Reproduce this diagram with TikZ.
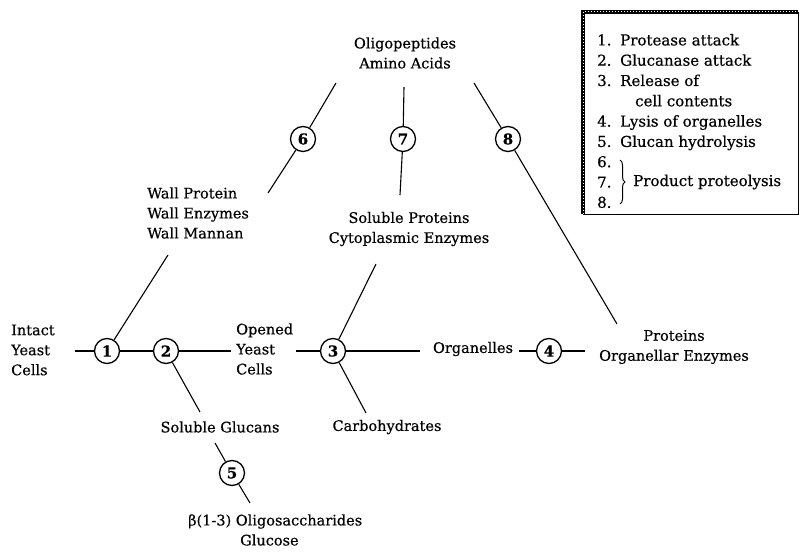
\documentclass[tikz,border=0pt]{standalone}
\usepackage{fontspec}
\setmainfont{DejaVu Serif}[FakeBold=0.5]
\usetikzlibrary{decorations.pathreplacing}
\begin{document}
\begin{tikzpicture}[x=1pt,y=-1pt,
  num/.style={circle,draw,line width=1.3pt,minimum size=25pt,inner sep=0pt,font=\fontsize{15}{15}\selectfont\bfseries},
  lbl/.style={inner sep=0pt,font=\fontsize{14.5}{20}\selectfont},
  leg/.style={inner sep=0pt,font=\fontsize{15}{20.3}\selectfont},
  conn/.style={line width=1.1pt}]
\useasboundingbox (0,0) rectangle (800,556);
% circles
\node[num] (c1) at (107,351) {1};
\node[num] (c2) at (166,351) {2};
\node[num] (c3) at (333,351) {3};
\node[num] (c4) at (549,351) {4};
\node[num] (c5) at (232,473) {5};
\node[num] (c6) at (303,139) {6};
\node[num] (c7) at (403,139) {7};
\node[num] (c8) at (508,139) {8};
% texts
\node[lbl,align=center] (olig) at (405,53) {Oligopeptides\\Amino Acids};
\node[lbl,align=left,anchor=west] (wall) at (147,213) {Wall Protein\\Wall Enzymes\\Wall Mannan};
\node[lbl,align=center] (solp) at (409,229) {Soluble Proteins\\Cytoplasmic Enzymes};
\node[lbl,align=left,anchor=west] (intact) at (11,350) {Intact\\Yeast\\Cells};
\node[lbl,align=left,anchor=west] (opened) at (236,349) {Opened\\Yeast\\Cells};
\node[lbl] (organ) at (473,349) {Organelles};
\node[lbl,align=center] (prot) at (674,347) {Proteins\\Organellar Enzymes};
\node[lbl] (glucans) at (220,427) {Soluble Glucans};
\node[lbl] (carbo) at (387,427) {Carbohydrates};
\node[lbl,align=left,anchor=west] (oligos) at (188,530) {β(1-3) Oligosaccharides\\\hspace*{52pt}Glucose};
% free ends
\coordinate (iL) at (75,351);
\coordinate (o2) at (231,351);
\coordinate (o3) at (296,351);
\coordinate (r3) at (420,351);
\coordinate (l4) at (519,351);
\coordinate (r4) at (585,351);
\coordinate (w1) at (168,255);
\coordinate (g2) at (200,412);
\coordinate (s3) at (376,264);
\coordinate (k3) at (366,413);
\coordinate (t5) at (215,443);
\coordinate (b5) at (250,503);
\coordinate (t6) at (336,83);
\coordinate (b6) at (268,193);
\coordinate (t7) at (404,87);
\coordinate (b7) at (400,195);
\coordinate (t8) at (474,83);
\coordinate (b8) at (617,324);
% connectors
\draw[conn] (iL) -- (c1);
\draw[conn] (c1) -- (c2);
\draw[conn] (c2) -- (o2);
\draw[conn] (o3) -- (c3);
\draw[conn] (c3) -- (r3);
\draw[conn] (l4) -- (c4);
\draw[conn] (c4) -- (r4);
\draw[conn] (c1) -- (w1);
\draw[conn] (c2) -- (g2);
\draw[conn] (c3) -- (s3);
\draw[conn] (c3) -- (k3);
\draw[conn] (t5) -- (c5) -- (b5);
\draw[conn] (t6) -- (c6) -- (b6);
\draw[conn] (t7) -- (c7) -- (b7);
\draw[conn] (t8) -- (c8) -- (b8);
% legend
\draw[line width=0.9pt] (798,12) -- (798,214) -- (583,214);
\draw[line width=3.5pt] (583,214) -- (583,12) -- (798,12);
\draw[white,line width=1pt,dash pattern=on 1pt off 2pt] (583,214) -- (583,12) -- (798,12);
\node[leg,align=left,anchor=west] (legend) at (597,121) {%
\makebox[23pt][l]{1.}Protease attack\\
\makebox[23pt][l]{2.}Glucanase attack\\
\makebox[23pt][l]{3.}Release of\\
\hspace*{38pt}cell contents\\
\makebox[23pt][l]{4.}Lysis of organelles\\
\makebox[23pt][l]{5.}Glucan hydrolysis\\
6.\\
7.\\
8.};
\coordinate (bt) at (620,160);
\coordinate (bb) at (620,204);
\draw[line width=1pt,decorate,decoration={brace,amplitude=5pt}] (bt) -- (bb);
\node[leg,anchor=west] (pp) at (633,182) {Product proteolysis};
\end{tikzpicture}
\end{document}
